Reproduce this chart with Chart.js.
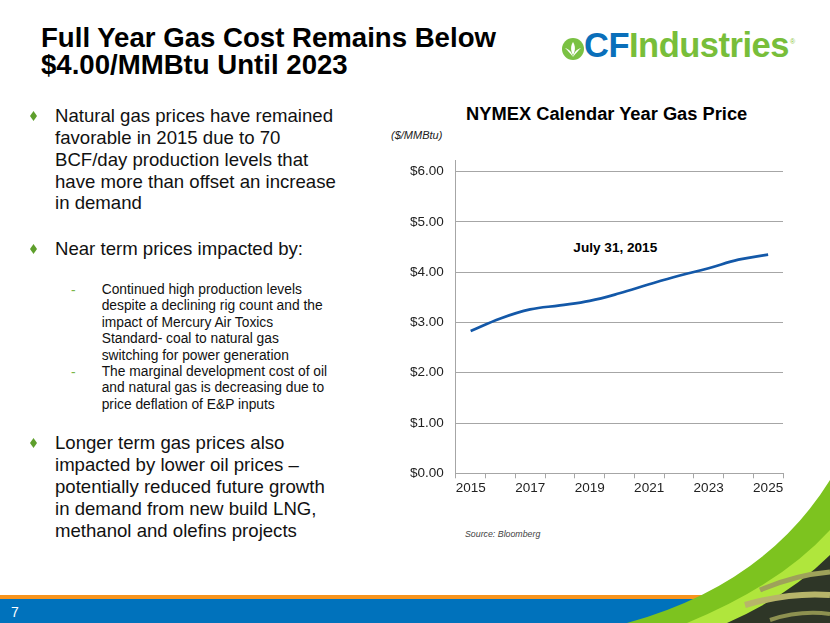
<!DOCTYPE html>
<html>
<head>
<meta charset="utf-8">
<script src="https://cdn.jsdelivr.net/npm/chart.js@4"></script>
<style>
  html, body { margin: 0; padding: 0; background: #fff; }
  body { width: 830px; height: 623px; position: relative; overflow: hidden; font-family: "Liberation Sans", Arial, sans-serif; color: #000; }
  .abs { position: absolute; white-space: nowrap; }
  .title { left: 41px; top: 25.3px; font-size: 27.6px; line-height: 26.7px; font-weight: bold; }
  .bul { left: 55px; font-size: 18.6px; line-height: 21.7px; color: #111; }
  .sub { left: 101.7px; font-size: 13.8px; line-height: 16.4px; color: #111; }
  .dia { position: absolute; left: 30px; width: 7px; height: 10px; background: #5e9f2c; clip-path: polygon(50% 0, 100% 50%, 50% 100%, 0 50%); }
  .dash { position: absolute; left: 71px; font-size: 13.8px; line-height: 1; color: #7ab648; }
  #chartBox { position: absolute; left: 389px; top: 140px; width: 406px; height: 367px; }
</style>
</head>
<body>
<div class="abs title">Full Year Gas Cost Remains Below<br>$4.00/MMBtu Until 2023</div>

<!-- logo -->
<svg class="abs" style="left:561px;top:37px" width="24" height="24" viewBox="0 0 24 24">
  <circle cx="12" cy="12" r="11" fill="#7ac143"/>
  <path d="M12 20 C11 15 8 12 4 11 C7 14 9 16 12 20 Z" fill="#fff"/>
  <path d="M12 20 C13 15 16 12 20 11 C17 14 15 16 12 20 Z" fill="#fff"/>
  <path d="M12 18 C9 13 10 8 12 5 C14 8 15 13 12 18 Z" fill="#fff"/>
</svg>
<div class="abs" style="left:584px;top:27.5px;font-size:34.5px;line-height:1;font-weight:bold;letter-spacing:-0.5px"><span style="color:#0a6fba">CF</span><span style="color:#78be3a">Industries</span></div>
<div class="abs" style="left:790px;top:38px;font-size:7px;line-height:1;color:#8cc63f">®</div>

<!-- bullets -->
<div class="dia" style="top:111px"></div>
<div class="abs bul" style="top:105.4px">Natural gas prices have remained<br>favorable in 2015 due to 70<br>BCF/day production levels that<br>have more than offset an increase<br>in demand</div>
<div class="dia" style="top:244px"></div>
<div class="abs bul" style="top:237.7px">Near term prices impacted by:</div>
<div class="dash" style="top:284px">-</div>
<div class="dash" style="top:366px">-</div>
<div class="abs sub" style="top:282px">Continued high production levels<br>despite a declining rig count and the<br>impact of Mercury Air Toxics<br>Standard- coal to natural gas<br>switching for power generation<br>The marginal development cost of oil<br>and natural gas is decreasing due to<br>price deflation of E&amp;P inputs</div>
<div class="dia" style="top:438px"></div>
<div class="abs bul" style="top:431.6px;line-height:22px">Longer term gas prices also<br>impacted by lower oil prices –<br>potentially reduced future growth<br>in demand from new build LNG,<br>methanol and olefins projects</div>

<!-- chart texts -->
<div class="abs" style="left:406.7px;width:400px;text-align:center;top:105.1px;font-size:18.3px;line-height:1;font-weight:bold">NYMEX Calendar Year Gas Price</div>
<div class="abs" style="left:391px;top:129.7px;font-size:11px;line-height:1;font-style:italic;color:#222">($/MMBtu)</div>
<div class="abs" style="left:515.3px;width:200px;text-align:center;top:240.8px;font-size:13.6px;line-height:1;font-weight:bold">July 31, 2015</div>
<div class="abs" style="left:465px;top:529.9px;font-size:8.8px;line-height:1;font-style:italic;color:#444">Source: Bloomberg</div>

<div id="chartBox"><canvas id="gas"></canvas></div>

<!-- footer -->
<div class="abs" style="left:0;top:595px;width:830px;height:4px;background:#f7941d"></div>
<div class="abs" style="left:0;top:599px;width:830px;height:24px;background:#0072bc"></div>
<div class="abs" style="left:11px;top:605px;font-size:14px;line-height:1;color:#fff">7</div>
<svg class="abs" style="left:0;top:0" width="830" height="623">
  <path d="M627 623 Q765 585 830 480 L830 623 Z" fill="#7dc31f"/>
  <path d="M687 623 Q780 585 830 530 L830 623 Z" fill="#b0e63c"/>
  <path d="M727 623 Q790 595 830 555 L830 623 Z" fill="#2e3627"/>
  <path d="M760 590 Q795 575 830 572" stroke="#9ea25a" stroke-width="5" fill="none"/>
  <path d="M745 605 Q790 592 830 595" stroke="#b7b56a" stroke-width="6" fill="none"/>
  <path d="M770 620 Q800 610 830 614" stroke="#8d9150" stroke-width="4" fill="none"/>
</svg>

<script>
const years = ['2015', '2016', '2017', '2018', '2019', '2020', '2021', '2022', '2023', '2024', '2025'];
const prices = [2.83, 3.08, 3.26, 3.34, 3.43, 3.58, 3.76, 3.93, 4.08, 4.25, 4.35];
const yTicks = [0, 1, 2, 3, 4, 5, 6];

const gridGray = '#a6a6a6';
const tickFont = { family: '"Liberation Sans", Arial, sans-serif', size: 13.5 };

new Chart(document.getElementById('gas'), {
  type: 'line',
  data: {
    labels: years,
    datasets: [{
      label: 'NYMEX',
      data: prices,
      borderColor: '#1358a8',
      borderWidth: 2.7,
      pointRadius: 0,
      tension: 0.4,
      fill: false
    }]
  },
  options: {
    responsive: true,
    maintainAspectRatio: false,
    animation: false,
    layout: { padding: { left: 9, right: 12, top: 10, bottom: 8.5 } },
    plugins: { legend: { display: false }, tooltip: { enabled: false } },
    scales: {
      x: {
        offset: true,
        border: { display: true, color: gridGray, width: 1 },
        grid: { offset: true, drawOnChartArea: false, drawTicks: true, tickLength: 5, color: gridGray },
        ticks: {
          autoSkip: false, maxRotation: 0, padding: 2, color: '#222', font: tickFont,
          callback: (v, i) => (i % 2 === 0 ? years[i] : '')
        }
      },
      y: {
        min: 0,
        max: 6.23,
        afterBuildTicks: s => { s.ticks = yTicks.map(v => ({ value: v })); },
        border: { display: true, color: gridGray, width: 1 },
        grid: { drawTicks: false, color: gridGray },
        ticks: { padding: 12, color: '#222', font: tickFont, callback: v => '$' + Number(v).toFixed(2) }
      }
    }
  }
});
</script>
</body>
</html>
